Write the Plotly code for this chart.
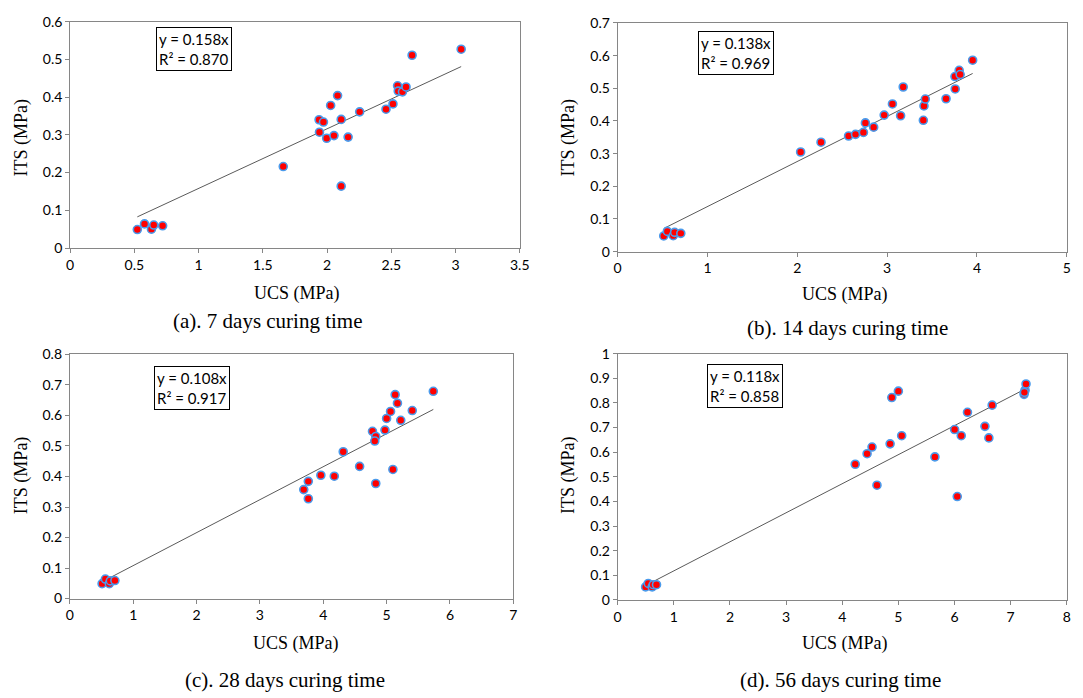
import plotly.graph_objects as go

W, H = 1083, 698

# ---- data (UCS, ITS in MPa) ----
ucs_7 = [0.523, 0.579, 0.633, 0.651, 0.72, 1.659, 1.938, 1.972, 1.941, 1.997, 2.054, 2.028, 2.082,
         2.110, 2.164, 2.110, 2.254, 2.459, 2.513, 2.549, 2.554, 2.587, 2.615, 2.662, 3.044]
its_7 = [0.049, 0.064, 0.050, 0.061, 0.059, 0.216, 0.340, 0.334, 0.307, 0.291, 0.298, 0.378, 0.404,
         0.341, 0.294, 0.164, 0.361, 0.368, 0.382, 0.430, 0.416, 0.414, 0.427, 0.511, 0.527]

ucs_14 = [0.513, 0.553, 0.619, 0.634, 0.703, 2.037, 2.264, 2.571, 2.648, 2.736, 2.758, 2.850, 2.967,
          3.059, 3.150, 3.179, 3.403, 3.410, 3.425, 3.656, 3.758, 3.755, 3.802, 3.813, 3.952]
its_14 = [0.048, 0.062, 0.049, 0.059, 0.056, 0.305, 0.335, 0.354, 0.359, 0.365, 0.394, 0.381, 0.418,
          0.452, 0.416, 0.504, 0.402, 0.446, 0.467, 0.468, 0.498, 0.536, 0.555, 0.542, 0.586]

ucs_28 = [0.509, 0.561, 0.623, 0.639, 0.711, 3.692, 3.764, 3.764, 3.962, 4.174, 4.315, 4.574, 4.777,
          4.829, 4.813, 4.829, 4.974, 5.000, 5.062, 5.099, 5.135, 5.171, 5.223, 5.405, 5.737]
its_28 = [0.049, 0.064, 0.049, 0.058, 0.059, 0.357, 0.384, 0.327, 0.404, 0.401, 0.481, 0.433, 0.548,
          0.531, 0.516, 0.377, 0.552, 0.590, 0.613, 0.423, 0.668, 0.640, 0.584, 0.616, 0.679]

ucs_56 = [0.498, 0.545, 0.615, 0.633, 0.692, 4.232, 4.443, 4.531, 4.619, 4.853, 4.883, 5.000, 5.059,
          5.651, 6.002, 6.049, 6.120, 6.231, 6.542, 6.612, 6.671, 7.239, 7.257, 7.274, 7.245]
its_56 = [0.053, 0.067, 0.053, 0.062, 0.062, 0.551, 0.594, 0.621, 0.466, 0.634, 0.822, 0.848, 0.667,
          0.581, 0.692, 0.420, 0.667, 0.762, 0.705, 0.658, 0.791, 0.835, 0.852, 0.877, 0.843]

slopes = [0.158, 0.138, 0.108, 0.118]
r2 = [0.870, 0.969, 0.917, 0.858]
captions = ["(a). 7 days curing time", "(b). 14 days curing time",
            "(c). 28 days curing time", "(d). 56 days curing time"]
x_ranges = [(0, 3.5), (0, 5), (0, 7), (0, 8)]
x_dtick = [0.5, 1, 1, 1]
y_ranges = [(0, 0.6), (0, 0.7), (0, 0.8), (0, 1.0)]

datasets = [(ucs_7, its_7), (ucs_14, its_14), (ucs_28, its_28), (ucs_56, its_56)]

# plot-area pixel boxes (left, top, right, bottom)
boxes = [(67, 13, 522.5, 245), (621.7, 14.3, 1076.7, 248.7),
         (66.7, 354, 516, 604.3), (621.7, 353.3, 1076.7, 605.7)]
# equation box top-left in pixels
eq_pos = [(154, 18), (703, 23), (152, 366), (712, 364)]
# caption, x-title, y-title pixel positions
cap_pos = [(267, 320), (855, 327), (285, 688), (847, 688)]
xt_pos = [(297, 292), (852, 293), (296, 650), (852, 650)]
yt_pos = [(18, 132), (572, 132), (18, 478), (572, 478)]

def px(x):
    return x / W

def py(y):
    return 1 - y / H

fig = go.Figure()
annotations = []
axis_color = "#868686"
tick_font = dict(family="Lato, Open Sans, sans-serif", size=14, color="#000000")

for i, ((xs, ys), (l, t, r, b)) in enumerate(zip(datasets, boxes)):
    n = "" if i == 0 else str(i + 1)
    xa, ya = "x" + n, "y" + n
    xmin, xmax = min(xs), max(xs)
    fig.add_trace(go.Scatter(
        x=[xmin, xmax], y=[slopes[i] * xmin, slopes[i] * xmax],
        mode="lines", line=dict(color="#5a5a5a", width=1),
        xaxis=xa, yaxis=ya, showlegend=False, hoverinfo="skip"))
    fig.add_trace(go.Scatter(
        x=xs, y=ys, mode="markers",
        marker=dict(color="#ff0000", size=8, line=dict(color="#4a9bec", width=1.6)),
        xaxis=xa, yaxis=ya, showlegend=False))
    common = dict(showline=True, linecolor=axis_color, linewidth=1, mirror=True,
                  ticks="outside", tickcolor=axis_color, ticklen=4, tickwidth=1,
                  showgrid=False, zeroline=False, tickfont=tick_font)
    fig.layout["xaxis" + n] = dict(domain=[px(l), px(r)], anchor=ya, range=list(x_ranges[i]),
                                   dtick=x_dtick[i], tick0=0, **common)
    fig.layout["yaxis" + n] = dict(domain=[py(b), py(t)], anchor=xa, range=list(y_ranges[i]),
                                   dtick=0.1, tick0=0, **common)
    ex, ey = eq_pos[i]
    annotations.append(dict(
        x=px(ex), y=py(ey), xref="paper", yref="paper", xanchor="left", yanchor="top",
        text=f"y = {slopes[i]:.3f}x<br>R² = {r2[i]:.3f}", showarrow=False, align="left",
        font=dict(family="Lato, Open Sans, sans-serif", size=15, color="#000"),
        bordercolor="#000000", borderwidth=1, borderpad=2, bgcolor="#ffffff"))
    cx, cy = cap_pos[i]
    annotations.append(dict(
        x=px(cx), y=py(cy), xref="paper", yref="paper", xanchor="center", yanchor="middle",
        text=captions[i], showarrow=False,
        font=dict(family="Liberation Serif, serif", size=21, color="#000")))
    tx, ty = xt_pos[i]
    annotations.append(dict(
        x=px(tx), y=py(ty), xref="paper", yref="paper", xanchor="center", yanchor="middle",
        text="UCS (MPa)", showarrow=False,
        font=dict(family="Liberation Serif, serif", size=18, color="#000")))
    yx, yy = yt_pos[i]
    annotations.append(dict(
        x=px(yx), y=py(yy), xref="paper", yref="paper", xanchor="center", yanchor="middle",
        text="ITS (MPa)", showarrow=False, textangle=-90,
        font=dict(family="Liberation Serif, serif", size=18, color="#000")))

fig.update_layout(width=W, height=H, margin=dict(l=0, r=0, t=0, b=0),
                  paper_bgcolor="#ffffff", plot_bgcolor="#ffffff",
                  annotations=annotations, showlegend=False)

fig.write_html("out.html")
